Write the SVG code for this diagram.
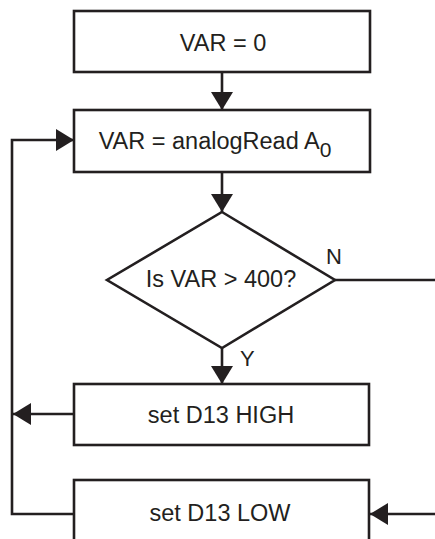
<svg xmlns="http://www.w3.org/2000/svg" width="435" height="539" viewBox="0 0 435 539">
<style>
.box{fill:#fff;stroke:#231f20;stroke-width:2.6}
.ln{fill:none;stroke:#231f20;stroke-width:2.6}
.t{font-family:"Liberation Sans",Arial,sans-serif;font-size:23.5px;fill:#231f20;text-anchor:middle}
.lb{font-family:"Liberation Sans",Arial,sans-serif;font-size:22px;fill:#231f20}
</style>
<defs>
<marker id="ah" markerUnits="userSpaceOnUse" markerWidth="18" markerHeight="22" refX="18" refY="11" orient="auto" viewBox="0 0 18 22">
<path d="M0,0 L18,11 L0,22 Z" fill="#231f20"/>
</marker>
</defs>
<rect width="435" height="539" fill="#fff"/>
<g id="connectors">
<line class="ln" x1="222" y1="72" x2="222" y2="110" marker-end="url(#ah)"/>
<line class="ln" x1="222" y1="172" x2="222" y2="212" marker-end="url(#ah)"/>
<line class="ln" x1="222" y1="348" x2="222" y2="384" marker-end="url(#ah)"/>
<polyline class="ln" points="335,280 435,280"/>
<line class="ln" x1="435" y1="514" x2="370" y2="514" marker-end="url(#ah)"/>
<line class="ln" x1="74" y1="414" x2="13" y2="414" marker-end="url(#ah)"/>
<polyline class="ln" points="74,514 12,514 12,140 74,140" marker-end="url(#ah)"/>
<text class="lb" x="326" y="264">N</text>
<text class="lb" x="240" y="366">Y</text>
</g>
<g id="n1">
<rect class="box" x="74" y="11" width="296" height="61"/>
<text class="t" x="223" y="51">VAR = 0</text>
</g>
<g id="n2">
<rect class="box" x="74" y="110" width="296" height="62"/>
<text class="t" x="215" y="149">VAR = analogRead A<tspan font-size="21" dy="8">0</tspan></text>
</g>
<g id="n3">
<polygon class="box" points="222,212 335,280 222,348 107,280"/>
<text class="t" x="221" y="287">Is VAR &gt; 400?</text>
</g>
<g id="n4">
<rect class="box" x="74" y="384" width="295" height="61"/>
<text class="t" x="221" y="423">set D13 HIGH</text>
</g>
<g id="n5">
<rect class="box" x="74" y="480" width="295" height="70"/>
<text class="t" x="220" y="521">set D13 LOW</text>
</g>
</svg>
